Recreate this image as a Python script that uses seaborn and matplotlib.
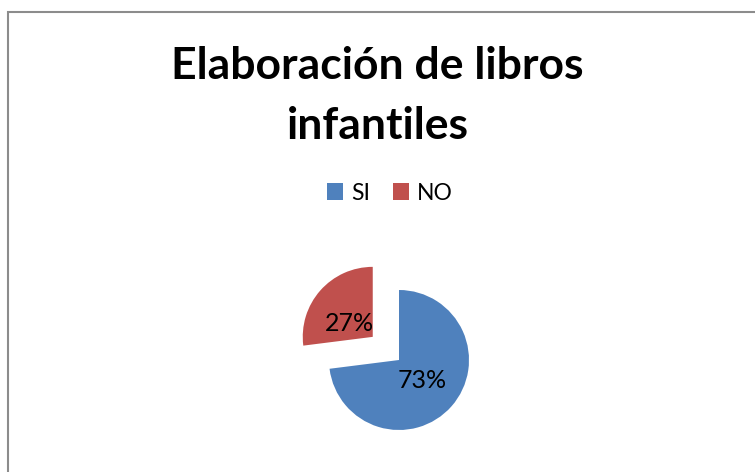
import matplotlib
matplotlib.use("Agg")
import matplotlib.pyplot as plt
import seaborn as sns
from matplotlib.patches import Rectangle

# Datos del gráfico
categorias = ["SI", "NO"]
porcentajes = [73, 27]
colores = ["#4F81BD", "#C0504D"]

sns.set_theme(style="white")
plt.rcParams["font.family"] = ["Lato", "DejaVu Sans"]

W, H = 755, 472
fig = plt.figure(figsize=(W / 100, H / 100), dpi=100)

# Borde del área del gráfico
fig.patches.append(Rectangle((8 / W, -0.05), 1.2, 1 - 11.5 / H + 0.05,
                             transform=fig.transFigure, fill=False,
                             edgecolor="#8c8c8c", linewidth=1.5))

# Pie: centro (399, 360) px, radio 70 px
cx, cy, r, half = 399, 360, 70, 110
ax = fig.add_axes([(cx - half) / W, (H - cy - half) / H, 2 * half / W, 2 * half / H])
wedges, texts, autotexts = ax.pie(
    porcentajes, colors=colores, startangle=90, counterclock=False,
    explode=[0, 0.5], autopct="%d%%", pctdistance=0.45,
    textprops={"fontsize": 18, "color": "black"},
    wedgeprops={"linewidth": 0},
)
# etiqueta del sector NO un poco más abajo, como en Excel
x, y = autotexts[1].get_position()
autotexts[1].set_position((x, y - 0.1))

lim = half / r
ax.set_xlim(-lim, lim)
ax.set_ylim(-lim, lim)
ax.set_aspect("auto")
ax.axis("off")

# Título
fig.text(0.5, 1 - 96 / H, "Elaboración de libros\ninfantiles", ha="center", va="center",
         fontsize=32, fontweight="bold", linespacing=1.62, color="black")

# Leyenda
leg = fig.legend(wedges, categorias, loc="center", bbox_to_anchor=(390 / W, 1 - 193 / H),
                 ncol=2, frameon=False, fontsize=16.5, handlelength=0.7, handleheight=0.7,
                 handletextpad=0.35, columnspacing=1.0)
for t in leg.get_texts():
    t.set_color("black")

fig.savefig("out.png", dpi=100)
